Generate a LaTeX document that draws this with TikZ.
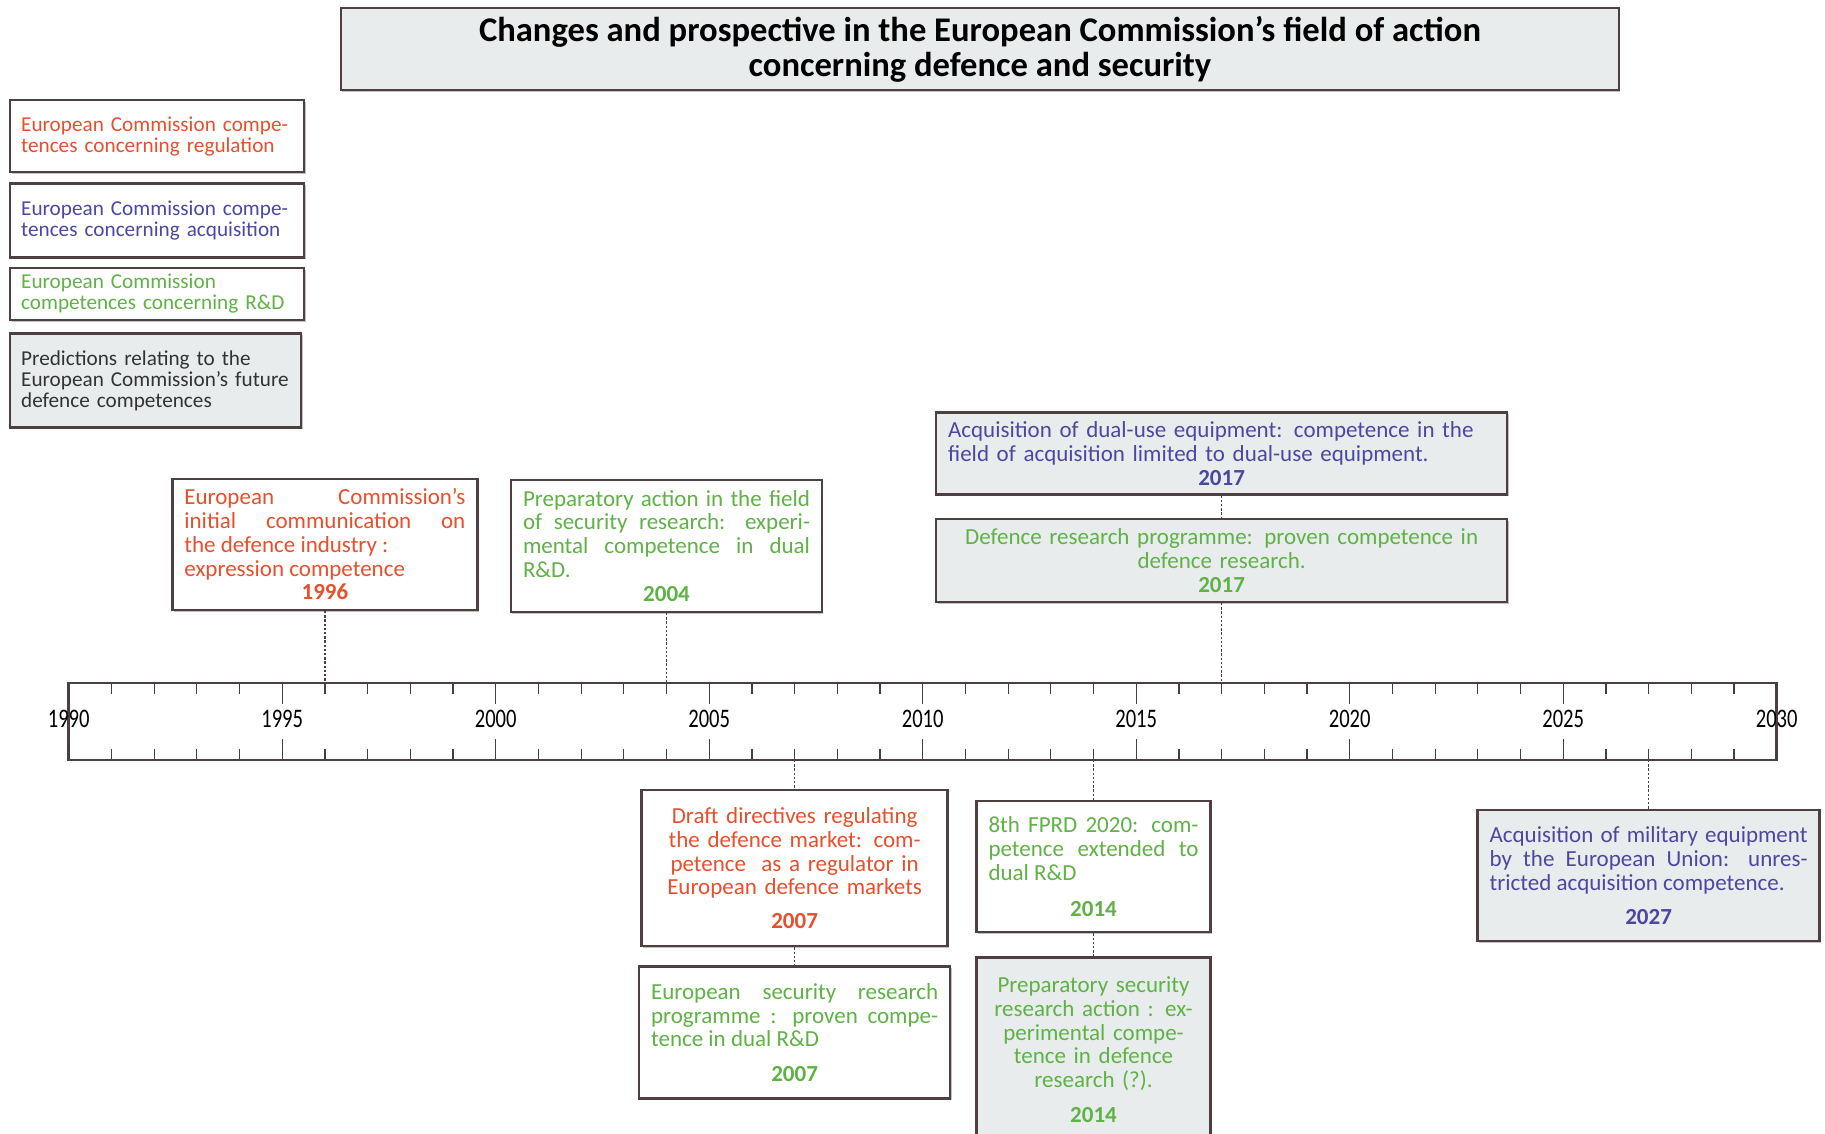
\documentclass[tikz,border=0pt]{standalone}
\usepackage{fontspec}
\setmainfont{Carlito}
\usepackage{graphicx}
\usepackage{tikz}
\usetikzlibrary{positioning,shadows}
\definecolor{ecred}{RGB}{230,80,45}
\definecolor{ecblue}{RGB}{75,72,160}
\definecolor{ecgreen}{RGB}{95,178,70}
\definecolor{ecgray}{RGB}{232,236,237}
\definecolor{ecborder}{RGB}{78,64,64}
\tikzstyle{link} = [dash pattern=on 1.2pt off 0.9pt, line width=0.6pt, color=ecborder]
\tikzstyle{yeartick} = [line width=0.6pt, color=black!75]
\tikzstyle{axisline} = [line width=1.4pt, color=ecborder]
\tikzstyle{yearlabel} = [font=\fontsize{10.3}{12}\selectfont, text=black, inner sep=0pt]
\tikzstyle{milestone} = [rectangle, draw=ecborder, line width=1.2pt, fill=white, inner xsep=6pt, inner ysep=2pt, align=justify, drop shadow={shadow xshift=0.7pt, shadow yshift=-0.9pt, fill=black!40, opacity=0.6}, font=\fontsize{11.5}{11.9}\selectfont, execute at begin node={\tolerance=10000}]
\tikzstyle{legendbox} = [milestone, align=left, text width=136pt, inner xsep=5.5pt, font=\fontsize{10.6}{10.5}\selectfont]
\tikzstyle{titlebox} = [milestone, fill=ecgray, align=center, minimum width=639pt, minimum height=41pt, font=\bfseries\fontsize{17.3}{17.5}\selectfont]
\newcommand{\when}[1]{\par\hspace*{\fill}\textbf{#1}\hspace*{\fill}}

\begin{document}
\begin{tikzpicture}[x=0.5pt, y=-0.5pt]
    \useasboundingbox (0,0) rectangle (1825,1134);

    % Title and legend
    \node[titlebox] (title) at (980,49) {Changes and prospective in the European Commission’s field of action\\concerning defence and security};
    \node[legendbox, text=ecred, minimum height=36pt, anchor=north west] (legreg) at (9,99) {European Commission compe-\\tences concerning regulation};
    \node[legendbox, text=ecblue, minimum height=37pt, below=4.5pt of legreg.south west, anchor=north west] (legacq) {European Commission compe-\\tences concerning acquisition};
    \node[legendbox, text=ecgreen, minimum height=26pt, below=4pt of legacq.south west, anchor=north west] (legrd) {European Commission\\competences concerning R\&D};
    \node[legendbox, text=black!80, fill=ecgray, text width=134.5pt, minimum height=47pt, below=5.5pt of legrd.south west, anchor=north west] (legfut) {Predictions relating to the\\European Commission’s future\\defence competences};

    % Time axis
    \draw[axisline] (68.7,683) rectangle (1776.7,760);
    \foreach \i in {0,...,40} {
        \draw[yeartick] ({68.7+42.7*\i},683) -- ++(0,11);
        \draw[yeartick] ({68.7+42.7*\i},760) -- ++(0,-11);
    }
    \foreach \i in {0,5,...,40} {
        \draw[yeartick] ({68.7+42.7*\i},683) -- ++(0,21);
        \draw[yeartick] ({68.7+42.7*\i},760) -- ++(0,-21);
        \pgfmathtruncatemacro{\yr}{1990+\i}
        \node[yearlabel] (lab\yr) at ({68.7+42.7*\i},719) {\scalebox{1}[1.3]{\yr}};
    }
    \foreach \y in {1996,2004,2017} \coordinate (t\y) at ({68.7+42.7*(\y-1990)},683);
    \foreach \y in {2007,2014,2027} \coordinate (b\y) at ({68.7+42.7*(\y-1990)},760);

    % Milestones above the axis
    \node[milestone, text=ecred, text width=140.5pt, minimum height=65.5pt, above=36pt of t1996] (reg1996) {European Commission’s\linebreak initial communication on\linebreak the defence industry :\newline expression competence\when{1996}};
    \node[milestone, text=ecgreen, text width=143.5pt, minimum height=66pt, above=35pt of t2004] (rd2004) {Preparatory action in the field\linebreak of security research: experi-\linebreak mental competence in dual\linebreak R\&D.\when{2004}};
    \node[milestone, text=ecgreen, fill=ecgray, align=center, text width=273.5pt, minimum height=41.5pt, above=40pt of t2017] (rd2017) {Defence research programme: proven competence in\\defence research.\when{2017}};
    \node[milestone, text=ecblue, fill=ecgray, align=left, text width=273.5pt, minimum height=41pt, above=11pt of rd2017] (acq2017) {Acquisition of dual-use equipment: competence in the\\field of acquisition limited to dual-use equipment.\when{2017}};

    % Milestones below the axis
    \node[milestone, text=ecred, align=center, text width=141pt, minimum height=78pt, below=14.5pt of b2007] (reg2007) {Draft directives regulating\\the defence market: com-\\petence\ \ as a regulator in\\European defence markets\par\vspace{5pt}\when{2007}};
    \node[milestone, text=ecgreen, text width=143.5pt, minimum height=66pt, below=9pt of reg2007] (rd2007) {European security research\linebreak programme : proven compe-\linebreak tence in dual R\&D\par\vspace{5.5pt}\when{2007}};
    \node[milestone, text=ecgreen, text width=105pt, minimum height=65.5pt, below=20pt of b2014] (rd2014) {8th FPRD 2020: com-\linebreak petence extended to\linebreak dual R\&D\par\vspace{6.5pt}\when{2014}};
    \node[milestone, text=ecgreen, fill=ecgray, align=center, text width=105pt, minimum height=92pt, below=11.5pt of rd2014] (prep2014) {Preparatory security\\research action : ex-\\perimental compe-\\tence in defence\\research (?).\par\vspace{5.5pt}\when{2014}};
    \node[milestone, text=ecblue, fill=ecgray, text width=159pt, minimum height=65.5pt, below=24.5pt of b2027] (acq2027) {Acquisition of military equipment\linebreak by the European Union: unres-\linebreak tricted acquisition competence.\par\vspace{5pt}\when{2027}};

    % Links
    \draw[link] (reg1996) -- (t1996);
    \draw[link] (rd2004) -- (t2004);
    \draw[link] (acq2017) -- (rd2017);
    \draw[link] (rd2017) -- (t2017);
    \draw[link] (b2007) -- (reg2007);
    \draw[link] (reg2007) -- (rd2007);
    \draw[link] (b2014) -- (rd2014);
    \draw[link] (rd2014) -- (prep2014);
    \draw[link] (b2027) -- (acq2027);
\end{tikzpicture}
\end{document}
